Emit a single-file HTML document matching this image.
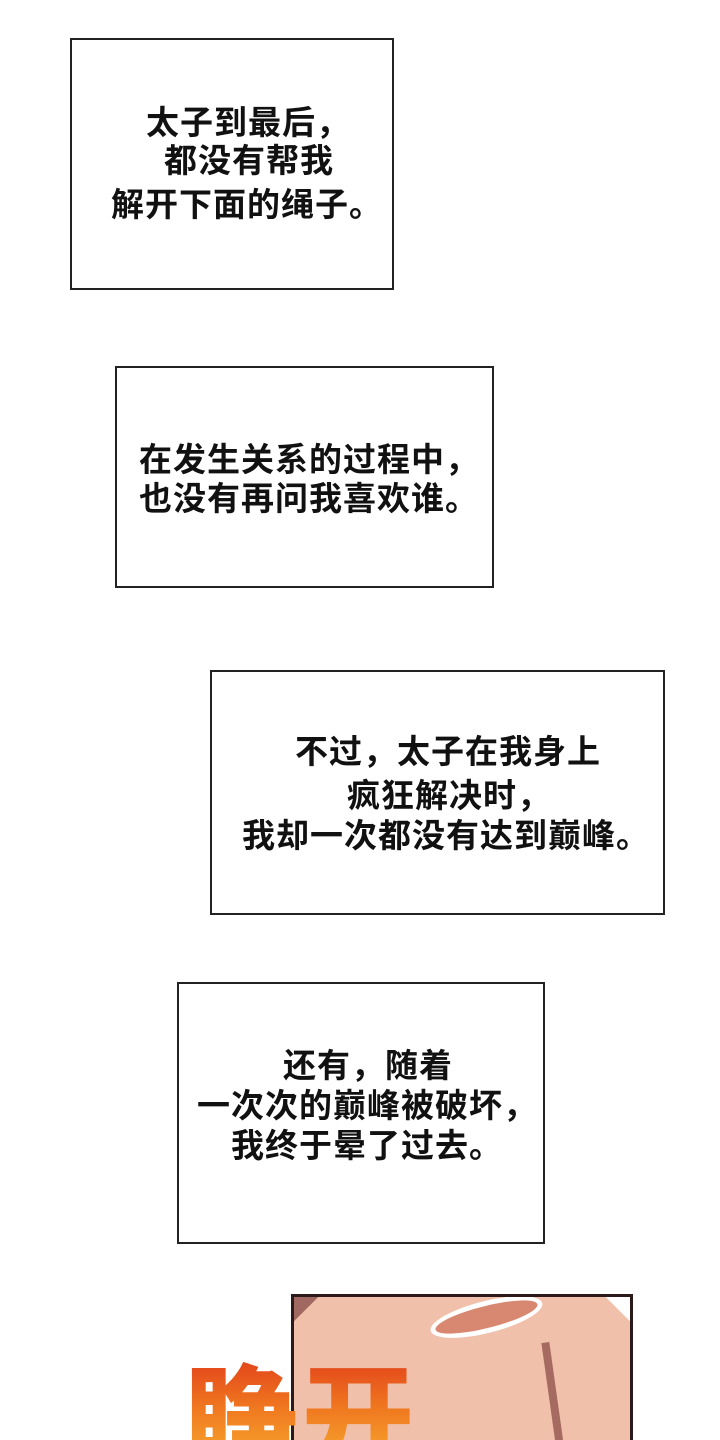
<!DOCTYPE html>
<html><head><meta charset="utf-8"><style>
html,body{margin:0;width:720px;height:1440px;overflow:hidden}
body{background:#fff;position:relative;font-family:"Liberation Sans","Noto Sans CJK SC",sans-serif}
.b{position:absolute;border:2px solid #222;box-sizing:border-box;background:#fff}
.t{position:absolute;font-size:33px;font-weight:bold;line-height:40px;letter-spacing:1px;white-space:nowrap;color:#111}
.big{position:absolute;font-size:112px;font-weight:900;line-height:120px;white-space:nowrap;background:linear-gradient(#e03a1a,#f07a20 50%,#f8b030);-webkit-background-clip:text;background-clip:text;color:transparent;font-family:"Noto Sans CJK SC",sans-serif;letter-spacing:4px}
</style></head><body>
<div class="b" style="left:70px;top:38px;width:324px;height:252px"></div>
<div class="t" style="left:146px;top:103px">太子到最后，</div>
<div class="t" style="left:164px;top:141px">都没有帮我</div>
<div class="t" style="left:111px;top:185px">解开下面的绳子。</div>

<div class="b" style="left:115px;top:366px;width:379px;height:222px"></div>
<div class="t" style="left:139px;top:440px">在发生关系的过程中，</div>
<div class="t" style="left:139px;top:479px">也没有再问我喜欢谁。</div>

<div class="b" style="left:210px;top:670px;width:455px;height:245px"></div>
<div class="t" style="left:295px;top:732px">不过，太子在我身上</div>
<div class="t" style="left:347px;top:776px">疯狂解决时，</div>
<div class="t" style="left:242px;top:816px">我却一次都没有达到巅峰。</div>

<div class="b" style="left:177px;top:982px;width:368px;height:262px"></div>
<div class="t" style="left:283px;top:1046px">还有，随着</div>
<div class="t" style="left:197px;top:1086px">一次次的巅峰被破坏，</div>
<div class="t" style="left:231px;top:1126px">我终于晕了过去。</div>

<div style="position:absolute;left:291px;top:1294px;width:342px;height:160px;background:#f0c0aa;border:3px solid #2a1a1a;box-sizing:border-box;overflow:hidden">
<div style="position:absolute;left:135px;top:4px;width:105px;height:22px;border-radius:50%;background:#d88870;border:5px solid #fff;transform:rotate(-14deg)"></div>
<div style="position:absolute;left:255px;top:45px;width:8px;height:110px;background:#a56a60;transform:rotate(-8deg)"></div>
<div style="position:absolute;left:-22px;top:-22px;width:40px;height:40px;background:#a06860;transform:rotate(45deg)"></div>
<div style="position:absolute;right:-22px;top:-22px;width:40px;height:40px;background:#fff;transform:rotate(45deg)"></div>
</div>
<div class="big" style="left:186px;top:1350px">睁开</div>
</body></html>
